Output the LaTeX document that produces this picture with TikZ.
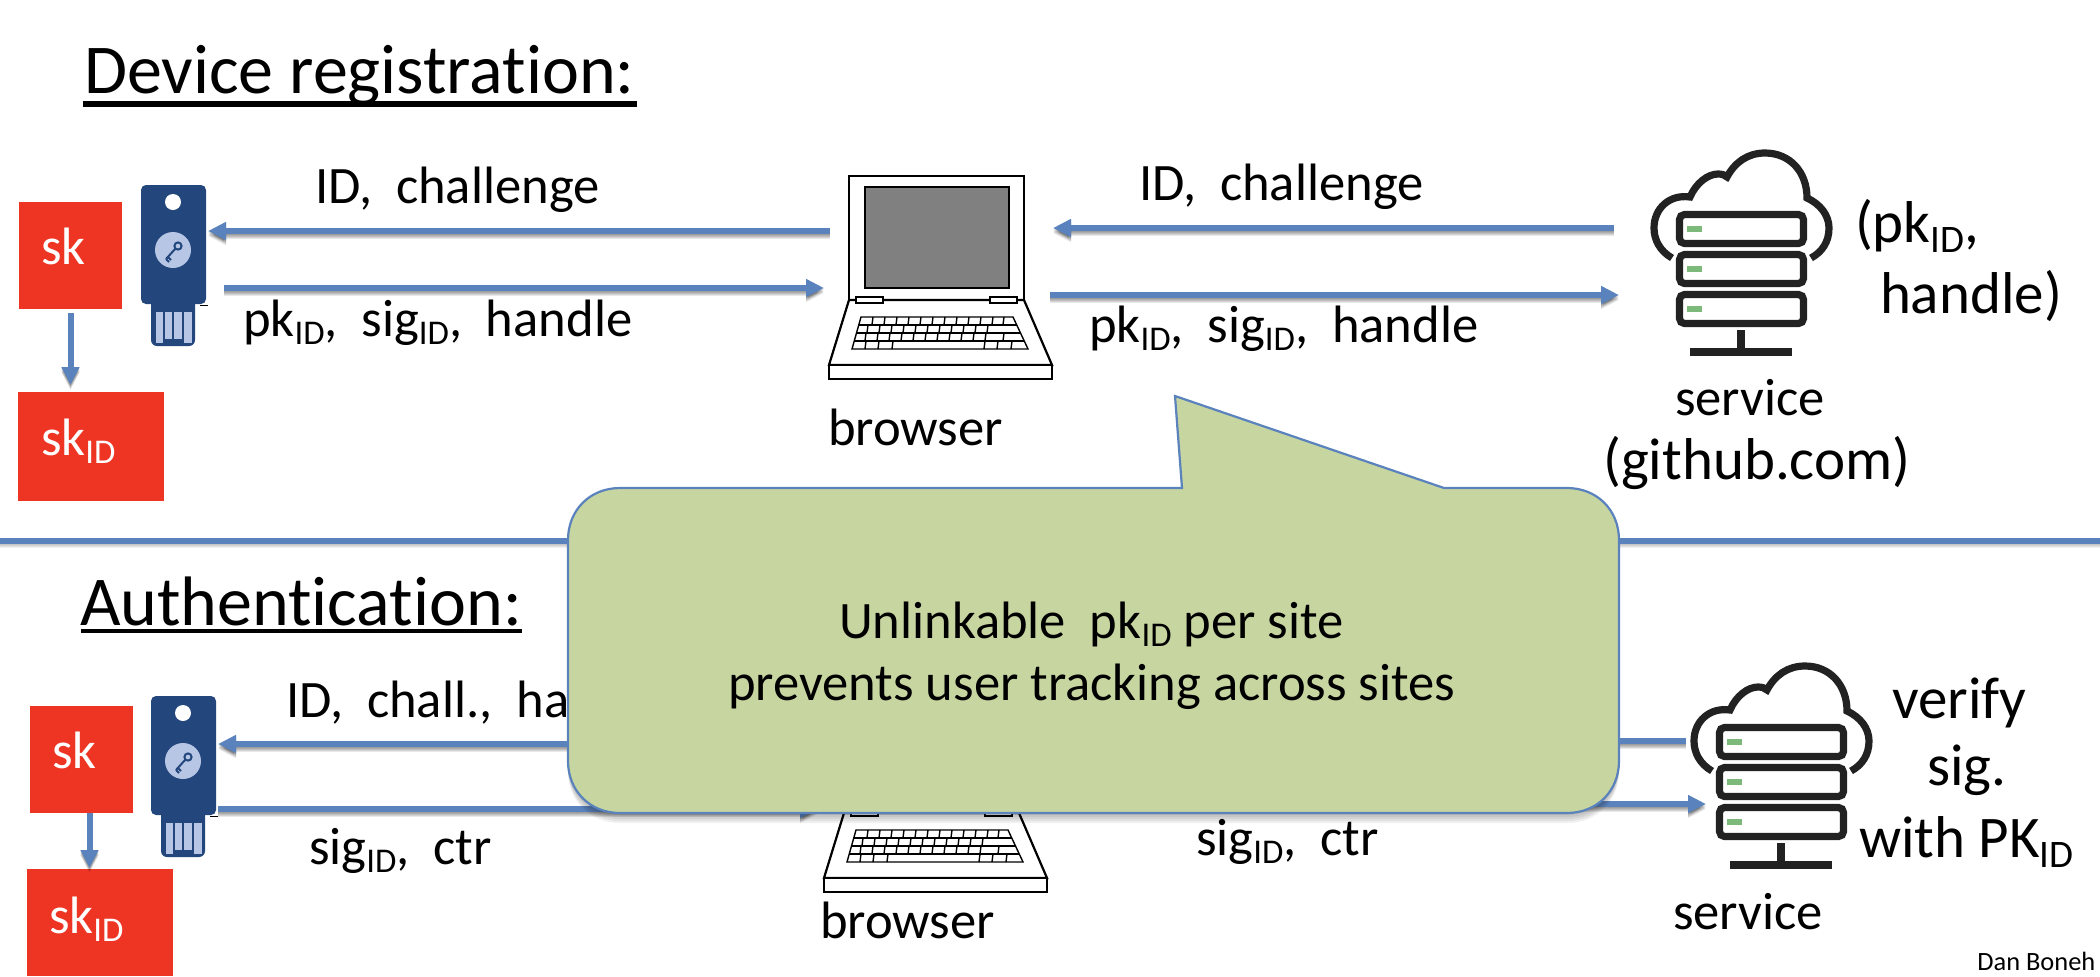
\documentclass[tikz,border=0pt]{standalone}
\usepackage{fontspec}
\usepackage{graphicx}
\setmainfont{Carlito}[Ligatures=NoCommon]
\usetikzlibrary{arrows.meta}
\definecolor{connblue}{HTML}{5A82BC}
\definecolor{keydark}{HTML}{23467D}
\definecolor{keylight}{HTML}{B7C6E4}
\definecolor{skred}{HTML}{EE3524}
\definecolor{calloutfill}{HTML}{C7D5A1}
\definecolor{serverink}{HTML}{222222}
\definecolor{ledgreen}{HTML}{7DB97A}
\newcommand\fsz[1]{\fontsize{#1}{#1}\selectfont}
\newcommand\lo[1]{\raisebox{-.17em}{\scalebox{.66}{#1}}}
\newcommand\conn[2]{%
  \foreach \d in {1,2,3,4,5}{\draw[connshade,transform canvas={yshift=-\d*0.5pt}] #1 -- #2;}
  \draw[connline] #1 -- #2;}
\tikzset{
  connline/.style={draw=connblue,line width=3pt,-{Triangle[length=9pt,width=8.5pt]}},
  connshade/.style={draw=black,opacity=.09,line width=3pt,-{Triangle[length=9pt,width=8.5pt]}},
  txt/.style={anchor=base west,inner sep=0pt,outer sep=0pt,font=\fsz{26.3}},
  big/.style={txt,font=\fsz{29.5}},
  wtxt/.style={txt,text=white},
  title/.style={anchor=base west,inner sep=0pt,outer sep=0pt,font=\fsz{35}},
  redbox/.style={fill=skred,draw=none,inner sep=0pt,outer sep=0pt,minimum width=#1},
  anchorbox/.style={inner sep=0pt,outer sep=0pt,draw=none},
  serverline/.style={draw=serverink,line width=3.6pt},
  lap/.style={draw=black,line width=1.1pt,line join=miter},
  keyb/.style={draw=black,line width=.7pt},
}
\newcommand\ukey[3]{%
 \begin{scope}[shift={(#1,#2)}]
  \fill[keydark,rounded corners=3pt] (151,298) rectangle (195,346);
  \fill[keylight] (155.5,312) rectangle (163,343);
  \fill[keylight] (165,312) rectangle (172,339);
  \fill[keylight] (174,312) rectangle (182,339);
  \fill[keylight] (184,312) rectangle (191.5,343);
  \fill[keydark,rounded corners=2.5pt] (141,185) rectangle (206,304);
  \fill[white] (173,202) circle (8);
  \fill[keylight] (173,250) circle (18);
  \draw[keydark,line width=1pt] (178,246) circle (3.6);
  \draw[keydark,line width=1pt] (175.5,248.5) -- (166,259) (168,257) -- (171,260) (166,259) -- (169,262);
  \draw[black,line width=.5pt] (200,305) -- (208,305);
  \node[anchorbox,minimum width=32.5pt,minimum height=80.5pt] (#3) at (173.5,265.5) {};
 \end{scope}}
\newcommand\laptop[3]{%
 \begin{scope}[shift={(#1,#2)}]
  \draw[lap,fill=white] (849,176) rectangle (1024,300);
  \draw[lap,fill=black!50] (865,187) rectangle (1009,288);
  \draw[lap,fill=white] (849,300) -- (1024,300) -- (1052,365) -- (829,365) -- cycle;
  \draw[lap,fill=white] (829,365) rectangle (1052,379);
  \draw[lap,fill=white] (856,297) rectangle (883,303);
  \draw[lap,fill=white] (990,297) rectangle (1017,303);
  \draw[keyb] (861,317) -- (1013,317) -- (1028,349) -- (852,349) -- cycle;
  \draw[keyb] (858.75,325) -- (1016.75,325) (856.5,333) -- (1020.5,333) (854.25,341) -- (1024.25,341);
  \foreach \a in {873,885,897,909,921,933,945,957,969,981,993,1004}
    {\draw[keyb] (\a,317) -- (\a-1,325);}
  \foreach \a in {868,880,892,904,916,928,940,952,964,976,988}
    {\draw[keyb] (\a,325) -- (\a-1,333);}
  \foreach \a in {866,878,890,902,914,926,938,950,962,974,986,1004}
    {\draw[keyb] (\a,333) -- (\a-1,341);}
  \foreach \a in {866,879,893,985,998,1012}
    {\draw[keyb] (\a,341) -- (\a-1,349);}
  \node[anchorbox,minimum width=111.5pt,minimum height=101.5pt] (#3) at (940.5,277.5) {};
 \end{scope}}
\newcommand\serverico[3]{%
 \begin{scope}[shift={(#1,#2)}]
  \draw[serverline] (1672,258) .. controls (1660,251) and (1654,240) .. (1654,228)
     .. controls (1654,208) and (1670,194) .. (1690,197)
     .. controls (1696,183) and (1708,174) .. (1718,174)
     .. controls (1722,174) and (1725,175) .. (1727,177)
     .. controls (1735,162) and (1748,153) .. (1765,153)
     .. controls (1790,153) and (1807,172) .. (1807,198)
     .. controls (1820,204) and (1829,215) .. (1829,228)
     .. controls (1829,242) and (1822,252) .. (1811,258);
  \foreach \y in {0,40,80}{
    \draw[serverline,fill=white,rounded corners=2.5pt] (1679.5,214.5+\y) rectangle (1803.5,243.5+\y);
    \fill[ledgreen] (1687,226+\y) rectangle (1702,232+\y);
  }
  \fill[serverink] (1737,330) rectangle (1745,352);
  \fill[serverink] (1690,348) rectangle (1792,356);
  \node[anchorbox,minimum width=87.5pt,minimum height=101.5pt] (#3) at (1740.5,254.5) {};
 \end{scope}}
\newcommand\calloutshape{(568,540) .. controls (568,510) and (590,488) .. (620,488)
   -- (1182,488) -- (1175,396) -- (1444,488) -- (1567,488)
   .. controls (1597,488) and (1619,510) .. (1619,540)
   -- (1619,761) .. controls (1619,791) and (1597,813) .. (1567,813)
   -- (620,813) .. controls (590,813) and (568,791) .. (568,761) -- cycle}
\begin{document}
\begin{tikzpicture}[x=0.5pt,y=-0.5pt]
\useasboundingbox (0,0) rectangle (2100,976);
\fill[white] (0,0) rectangle (2100,976);
% titles
\node[title] (t1) at (84,93) {Device registration:};
\draw[black,line width=2.6pt] (83,104) -- (637,104);
\node[title] (t2) at (80,625) {Authentication:};
\draw[black,line width=1.7pt] (81,631) -- (522,631);
% separator
\coordinate (sepl) at (0,541); \coordinate (sepr) at (2100,541);
\foreach \d in {1,2,3,4}{\draw[black,opacity=.06,line width=2.8pt,transform canvas={yshift=-\d*0.5pt}] (sepl) -- (sepr);}
\draw[connblue,line width=2.8pt] (sepl) -- (sepr);
% red boxes
\node[redbox=51.5pt,minimum height=53.5pt] (sk1) at (70.5,255.5) {};
\node[wtxt] (sk1t) at (41,264) {sk};
\node[redbox=73pt,minimum height=54.5pt] (skid1) at (91,446.5) {};
\node[wtxt] (skid1t) at (41,455) {sk\lo{ID}};
\node[redbox=51.5pt,minimum height=53.5pt] (sk2) at (81.5,759.5) {};
\node[wtxt] (sk2t) at (52,768) {sk};
\node[redbox=73pt,minimum height=53.5pt] (skid2) at (99.5,922.5) {};
\node[wtxt] (skid2t) at (49,933) {sk\lo{ID}};
% icons
\ukey{0}{0}{key1}
\ukey{10}{511}{key2}
\laptop{0}{0}{lap1}
\laptop{-5}{513}{lap2}
\serverico{0}{0}{srv1}
\serverico{40}{513}{srv2}
% labels
\node[txt] (l1) at (315,203) {ID,\ \ challenge};
\node[txt] (l2) at (1139,200) {ID,\ \ challenge};
\node[txt] (l3) at (243,336) {pk\lo{ID},\ \ sig\lo{ID},\ \ handle};
\node[txt] (l4) at (1089,342) {pk\lo{ID},\ \ sig\lo{ID},\ \ handle};
\node[txt] (b1) at (828,445) {browser};
\node[txt] (b2) at (820,938) {browser};
\node[txt] (s1) at (1675,415) {service};
\node[big] (s1b) at (1603,479) {(github.com)};
\node[big] (p1) at (1855,242) {(pk\lo{ID},};
\node[big] (p2) at (1880,313) {handle)};
\node[big] (v1) at (1892,718) {verify};
\node[big] (v2) at (1927,785) {sig.};
\node[big] (v3) at (1859,857) {with PK\lo{ID}};
\node[txt] (s2) at (1673,929) {service};
\node[anchor=base west,inner sep=0pt,font=\fsz{13.2}] (dan) at (1977,970) {Dan Boneh};
\node[txt] (l5) at (286,717) {ID,\ \ chall.,\ \ ha};
\node[txt] (l6) at (309,864) {sig\lo{ID},\ \ ctr};
\node[txt] (l7) at (1196,855) {sig\lo{ID},\ \ ctr};
% connectors, top
\conn{([shift={(1,-46.5)}]lap1.west)}{([shift={(2,-34.5)}]key1.east)}
\conn{([shift={(18,22.5)}]key1.east)}{([shift={(-5,10.5)}]lap1.west)}
\conn{([shift={(-39,-26.5)}]srv1.west)}{([shift={(1,-49.5)}]lap1.east)}
\conn{([shift={(-2,17.5)}]lap1.east)}{([shift={(-34,40.5)}]srv1.west)}
\conn{([shift={(0,4)}]sk1.south)}{([shift={(0,-7)}]sk1.south |- skid1.north)}
% connectors, bottom
\conn{([shift={(1,-46.5)}]lap2.west)}{([shift={(2,-32.5)}]key2.east)}
\conn{([shift={(2,32.5)}]key2.east)}{([shift={(-6,18.5)}]lap2.west)}
\conn{([shift={(-7,-26.5)}]srv2.west)}{([shift={(1,-49.5)}]lap2.east)}
\conn{([shift={(-2,13.5)}]lap2.east)}{([shift={(13,36.5)}]srv2.west)}
\conn{([shift={(8,0)}]sk2.south)}{([shift={(8,-1)}]sk2.south |- skid2.north)}
% callout
\foreach \d in {2,4,6,8,10}{\fill[black,opacity=.06,shift={(0,\d)}] \calloutshape;}
\draw[draw=connblue,line width=1.1pt,fill=calloutfill] \calloutshape;
\node[txt] (c1) at (839,638) {Unlinkable\ \ pk\lo{ID} per site};
\node[txt] (c2) at (728,700) {prevents user tracking across sites};
\end{tikzpicture}
\end{document}
